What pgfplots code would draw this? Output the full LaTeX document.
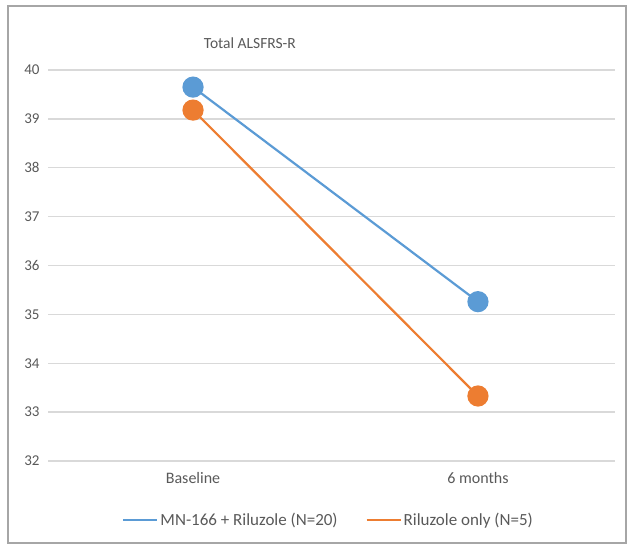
\documentclass[border=0pt]{standalone}
\usepackage{pgfplots}
\pgfplotsset{compat=1.18}
\usepackage{fontspec}
\setmainfont{Carlito}
\definecolor{exblue}{HTML}{5B9BD5}
\definecolor{exorange}{HTML}{ED7D31}
\definecolor{txt}{HTML}{595959}
\definecolor{gridc}{HTML}{D9D9D9}
\definecolor{framec}{HTML}{A6A6A6}
\begin{document}
\begin{tikzpicture}[x=1pt,y=1pt]
\useasboundingbox (0,0) rectangle (629,-545);
\draw[framec, line width=1.8pt] (8,-6) rectangle (626,-543);
\begin{axis}[
  at={(48pt,-461pt)}, anchor=south west,
  scale only axis, width=567pt, height=391pt,
  xmin=-0.509, xmax=1.481, ymin=32, ymax=40,
  xtick={0,1}, xticklabels={Baseline,6 months},
  ytick={32,33,...,40},
  axis line style={draw=none},
  major tick length=0pt,
  ymajorgrids, grid style={gridc, line width=1.3pt},
  tick label style={font=\fontsize{16}{18}\selectfont, text=txt},
  yticklabel style={font=\fontsize{15}{17}\selectfont, xshift=-5pt},
  /pgf/number format/assume math mode=true,
  xticklabel style={yshift=-8pt},
  title={Total ALSFRS-R},
  title style={font=\fontsize{15.5}{17}\selectfont, text=txt, at={(rel axis cs:0.356,1)}, anchor=south, yshift=12pt},
  legend columns=2,
  legend style={draw=none, fill=none, font=\fontsize{17}{19}\selectfont, text=txt,
    at={(rel axis cs:0.495,-0.151)}, anchor=center,
    /tikz/every even column/.append style={column sep=26pt}},
  legend image code/.code={\draw[#1, mark=none, line width=2pt] (0pt,0pt) -- (34pt,0pt);},
  clip=false,
]
\addplot[exblue, line width=2.2pt, mark=*, mark size=9.5pt, mark options={fill=exblue, draw=exblue}]
  coordinates {(0,39.65) (1,35.26)};
\addlegendentry{MN-166 + Riluzole (N=20)}
\addplot[exorange, line width=2.2pt, mark=*, mark size=9.5pt, mark options={fill=exorange, draw=exorange}]
  coordinates {(0,39.18) (1,33.33)};
\addlegendentry{Riluzole only (N=5)}
\end{axis}
\end{tikzpicture}
\end{document}
